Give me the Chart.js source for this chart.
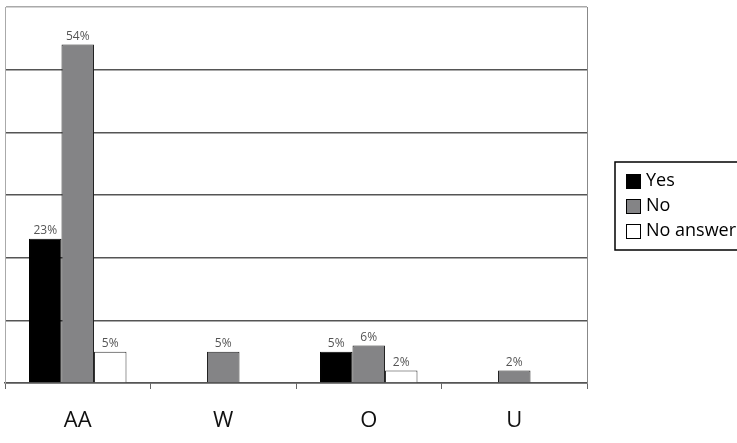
<!DOCTYPE html>
<html>
<head>
<meta charset="utf-8">
<script src="https://cdn.jsdelivr.net/npm/chart.js@4/dist/chart.umd.min.js"></script>
<style>
  html, body { margin: 0; padding: 0; background: #fff; }
  #wrap { width: 737px; height: 443px; position: relative; }
</style>
</head>
<body>
<div id="wrap"><canvas id="chart"></canvas></div>
<script>
const categories = ["AA", "W", "O", "U"];
const yesValues = [23, null, 5, null];
const noValues = [54, 5, 6, 2];
const noAnswerValues = [5, null, 2, null];
const yTicks = [0, 10, 20, 30, 40, 50, 60];

const labelFont = "'Open Sans', 'Noto Sans', sans-serif";

// value labels above each bar
const barValueLabels = {
  id: "barValueLabels",
  afterDatasetsDraw(chart) {
    const ctx = chart.ctx;
    ctx.save();
    ctx.font = "12px " + labelFont;
    ctx.fillStyle = "#555";
    ctx.textAlign = "center";
    ctx.textBaseline = "bottom";
    chart.data.datasets.forEach((ds, i) => {
      chart.getDatasetMeta(i).data.forEach((bar, j) => {
        const v = ds.data[j];
        if (v === null || v === undefined) return;
        ctx.fillText(v + "%", bar.x, bar.y - 2);
      });
    });
    ctx.restore();
  }
};

// boxed legend to the right of the plot
const boxedLegend = {
  id: "boxedLegend",
  afterDraw(chart) {
    const ctx = chart.ctx;
    const left = 615, top = 162, bottom = 250;
    ctx.save();
    ctx.strokeStyle = "#000";
    ctx.lineWidth = 1.5;
    ctx.strokeRect(left, top, 140, bottom - top);
    ctx.font = "18px " + labelFont;
    ctx.textBaseline = "middle";
    chart.data.datasets.forEach((ds, i) => {
      const cy = 181 + i * 25;
      ctx.fillStyle = ds.backgroundColor;
      ctx.fillRect(626, cy - 7, 14, 14);
      ctx.strokeStyle = "#000";
      ctx.lineWidth = 1;
      ctx.strokeRect(626.5, cy - 6.5, 14, 14);
      ctx.fillStyle = "#000";
      ctx.fillText(ds.label, 646, cy);
    });
    ctx.restore();
  }
};

new Chart(document.getElementById("chart"), {
  type: "bar",
  data: {
    labels: categories,
    datasets: [
      { label: "Yes", data: yesValues, backgroundColor: "#000000", borderColor: "#000000", borderWidth: 1 },
      { label: "No", data: noValues, backgroundColor: "#848486", borderColor: "#222222", borderWidth: 1 },
      { label: "No answer", data: noAnswerValues, backgroundColor: "#ffffff", borderColor: "#333333", borderWidth: 1 }
    ]
  },
  options: {
    responsive: true,
    maintainAspectRatio: false,
    animation: false,
    layout: { padding: { left: 5, right: 150, top: 7, bottom: 0 } },
    datasets: { bar: { categoryPercentage: 0.67, barPercentage: 1.0, skipNull: false } },
    plugins: {
      legend: { display: false },
      tooltip: { enabled: false }
    },
    scales: {
      x: {
        afterFit(axis) {
          axis.height = 60;
        },
        grid: { display: true, drawOnChartArea: false, drawTicks: true, tickLength: 6, color: "#666", offset: true },
        border: { color: "#555", width: 1.5 },
        ticks: { color: "#111", font: { family: labelFont, size: 22 }, padding: 19 }
      },
      y: {
        min: yTicks[0],
        max: yTicks[yTicks.length - 1],
        afterBuildTicks(axis) {
          axis.ticks = yTicks.map((v) => ({ value: v }));
        },
        grid: {
          drawTicks: false,
          lineWidth: 1.5,
          color: (c) => (c.tick && c.tick.value === yTicks[yTicks.length - 1] ? "#aaa" : "#555")
        },
        border: { color: "#aaa", width: 1 },
        ticks: { display: false }
      },
      yRight: {
        position: "right",
        min: yTicks[0],
        max: yTicks[yTicks.length - 1],
        grid: { drawOnChartArea: false, drawTicks: false },
        border: { color: "#888", width: 1 },
        ticks: { display: false }
      }
    }
  },
  plugins: [barValueLabels, boxedLegend]
});
</script>
</body>
</html>
